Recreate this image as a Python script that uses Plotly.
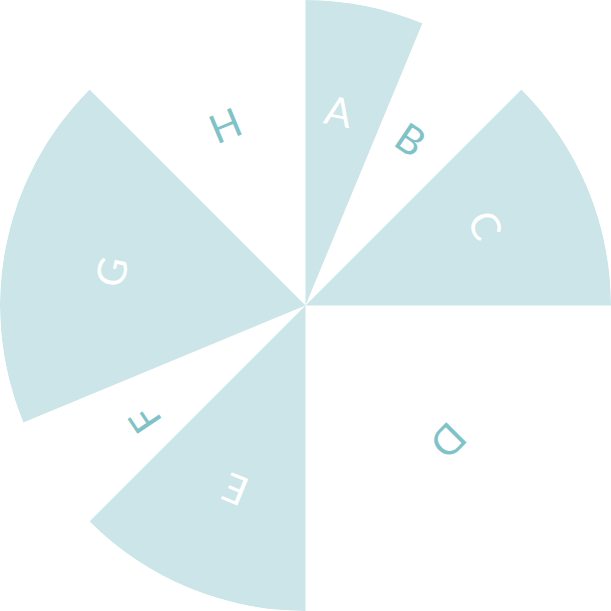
import math
import plotly.graph_objects as go

categories = ["A", "B", "C", "D", "E", "F", "G", "H"]
widths = [22.5, 22.5, 45, 90, 45, 22.5, 67.5, 45]
radii = [1, 1, 1, 1, 1, 1, 1, 1]
filled = [True, False, True, False, True, False, True, False]

FILL = "#cbe5e8"
TEAL = "#7fc3c8"

thetas = []
acc = 0
for w in widths:
    thetas.append(acc + w / 2)
    acc += w

colors = [FILL if f else "rgba(0,0,0,0)" for f in filled]

fig = go.Figure(go.Barpolar(
    r=radii, theta=thetas, width=widths,
    marker=dict(color=colors, line=dict(width=0)),
    hoverinfo="skip", showlegend=False,
))

label_r = 0.645
label_shift = -1.5
annotations = []
for cat, th, f in zip(categories, thetas, filled):
    rad = math.radians(th + label_shift)
    annotations.append(dict(
        x=0.5 + 0.5 * label_r * math.sin(rad),
        y=0.5 + 0.5 * label_r * math.cos(rad),
        xref="paper", yref="paper", showarrow=False,
        text=cat, textangle=th,
        font=dict(family="Lato", size=40, color="white" if f else TEAL),
        xanchor="center", yanchor="middle",
    ))

fig.update_layout(
    width=611, height=611,
    margin=dict(l=0, r=0, t=0, b=0),
    paper_bgcolor="white",
    polar=dict(
        domain=dict(x=[0, 1], y=[0, 1]),
        bgcolor="white",
        bargap=0,
        radialaxis=dict(range=[0, 1], visible=False, showgrid=False),
        angularaxis=dict(rotation=90, direction="clockwise", visible=False,
                         showgrid=False, showline=False, showticklabels=False, ticks=""),
    ),
    annotations=annotations,
)

fig.write_html("out.html", config=dict(displayModeBar=False),
               post_script="document.body.style.margin='0';document.body.style.overflow='hidden';")
